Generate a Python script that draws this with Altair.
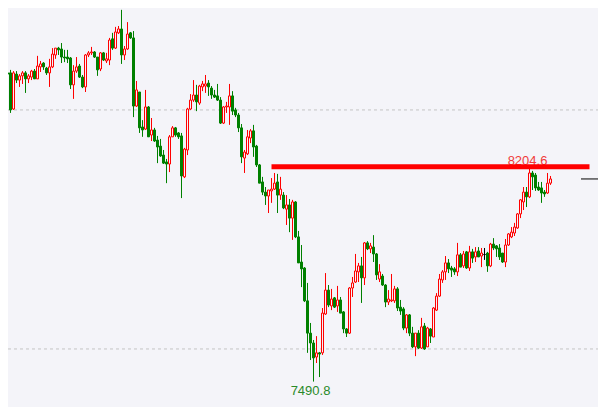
import altair as alt
import pandas as pd

# ---- data ----
opens = [8373, 8530, 8524, 8524, 8403, 8520, 8500, 8514, 8524, 8504, 8510, 8530, 8504, 8544, 8557, 8540,
         8524, 8544, 8584, 8607, 8604, 8577, 8577, 8574, 8484, 8530, 8547, 8510, 8477, 8584, 8591, 8594,
         8577, 8537, 8591, 8564, 8567, 8638, 8607, 8658, 8671, 8584, 8604, 8658, 8641, 8413, 8460, 8343,
         8336, 8410, 8316, 8333, 8299, 8279, 8249, 8226, 8219, 8310, 8340, 8323, 8313, 8176, 8266, 8403,
         8433, 8450, 8423, 8477, 8480, 8490, 8473, 8450, 8447, 8433, 8356, 8410, 8410, 8447, 8400, 8383,
         8340, 8239, 8253, 8306, 8330, 8279, 8216, 8159, 8125, 8112, 8129, 8135, 8159, 8115, 8115, 8068,
         8082, 8038, 8092, 7975, 7891, 7871, 7761, 7653, 7620, 7573, 7587, 7587, 7717, 7797, 7744, 7771,
         7744, 7764, 7724, 7667, 7653, 7804, 7824, 7858, 7878, 7838, 7955, 7935, 7941, 7918, 7834, 7844,
         7814, 7757, 7761, 7761, 7801, 7740, 7734, 7670, 7714, 7653, 7607, 7653, 7603, 7677, 7607, 7667,
         7640, 7730, 7777, 7831, 7858, 7888, 7871, 7868, 7858, 7915, 7878, 7925, 7871, 7925, 7908, 7928,
         7911, 7916, 7921, 7878, 7951, 7945, 7938, 7921, 7891, 7948, 7975, 7988, 8005, 8052, 8092, 8125,
         8109, 8189, 8182, 8142, 8139, 8125, 8122, 8155]
highs = [8540, 8567, 8550, 8534, 8530, 8530, 8520, 8530, 8530, 8520, 8534, 8537, 8581, 8564, 8560, 8544,
         8571, 8607, 8607, 8611, 8624, 8601, 8601, 8577, 8550, 8577, 8554, 8517, 8587, 8597, 8611, 8597,
         8577, 8594, 8594, 8591, 8641, 8658, 8678, 8681, 8735, 8614, 8694, 8661, 8664, 8497, 8460, 8366,
         8467, 8413, 8373, 8340, 8313, 8303, 8266, 8236, 8316, 8346, 8343, 8326, 8323, 8273, 8407, 8453,
         8500, 8484, 8484, 8497, 8517, 8500, 8480, 8467, 8487, 8443, 8413, 8427, 8487, 8463, 8407, 8390,
         8353, 8266, 8333, 8336, 8350, 8283, 8219, 8176, 8142, 8132, 8172, 8189, 8186, 8176, 8125, 8115,
         8102, 8099, 8095, 7995, 7948, 7874, 7821, 7687, 7630, 7643, 7590, 7737, 7854, 7814, 7801, 7774,
         7811, 7774, 7727, 7670, 7807, 7841, 7918, 7888, 7908, 7958, 7961, 7955, 7981, 7921, 7884, 7851,
         7817, 7797, 7851, 7811, 7807, 7764, 7740, 7717, 7717, 7674, 7653, 7663, 7704, 7687, 7674, 7670,
         7740, 7787, 7851, 7864, 7911, 7901, 7878, 7874, 7955, 7921, 7928, 7928, 7945, 7935, 7941, 7941,
         7938, 7938, 7925, 7955, 7971, 7948, 7951, 7921, 7968, 7988, 8008, 8022, 8055, 8102, 8142, 8142,
         8204.6, 8196, 8189, 8159, 8159, 8132, 8189, 8179]
lows = [8279, 8494, 8494, 8390, 8400, 8490, 8477, 8487, 8457, 8490, 8500, 8504, 8504, 8527, 8534, 8517,
        8477, 8540, 8571, 8584, 8557, 8560, 8557, 8470, 8437, 8524, 8507, 8473, 8460, 8577, 8584, 8574,
        8514, 8530, 8564, 8557, 8550, 8601, 8604, 8654, 8554, 8567, 8601, 8638, 8376, 8410, 8323, 8310,
        8333, 8310, 8296, 8293, 8222, 8243, 8219, 8155, 8192, 8310, 8310, 8303, 8105, 8172, 8249, 8400,
        8427, 8396, 8417, 8463, 8457, 8447, 8437, 8440, 8430, 8353, 8353, 8390, 8350, 8383, 8376, 8326,
        8222, 8189, 8249, 8289, 8243, 8209, 8155, 8115, 8082, 8055, 8089, 8132, 8055, 8099, 8068, 8015,
        7991, 7965, 7971, 7888, 7807, 7757, 7587, 7563, 7490.8, 7553, 7506, 7580, 7714, 7740, 7730, 7737,
        7724, 7720, 7653, 7640, 7650, 7774, 7821, 7824, 7754, 7814, 7931, 7921, 7891, 7831, 7824, 7811,
        7740, 7747, 7757, 7754, 7727, 7714, 7663, 7653, 7643, 7603, 7576, 7600, 7600, 7597, 7607, 7620,
        7640, 7727, 7774, 7821, 7831, 7854, 7841, 7848, 7844, 7874, 7871, 7868, 7861, 7888, 7891, 7908,
        7874, 7898, 7858, 7874, 7931, 7908, 7898, 7888, 7874, 7945, 7971, 7978, 8002, 8038, 8065, 8075,
        8105, 8132, 8129, 8129, 8089, 8109, 8119, 8149]
closes = [8540, 8524, 8520, 8400, 8524, 8500, 8514, 8524, 8504, 8514, 8530, 8504, 8547, 8554, 8544, 8524,
          8544, 8587, 8607, 8601, 8577, 8574, 8571, 8484, 8530, 8544, 8510, 8477, 8584, 8591, 8594, 8577,
          8534, 8591, 8567, 8571, 8634, 8607, 8661, 8671, 8584, 8604, 8654, 8641, 8413, 8467, 8340, 8333,
          8410, 8310, 8333, 8296, 8276, 8246, 8222, 8219, 8310, 8340, 8316, 8310, 8179, 8269, 8403, 8433,
          8450, 8427, 8480, 8487, 8487, 8477, 8450, 8443, 8433, 8356, 8410, 8413, 8447, 8396, 8383, 8340,
          8243, 8259, 8310, 8330, 8276, 8216, 8155, 8125, 8112, 8132, 8135, 8155, 8115, 8135, 8072, 8082,
          8038, 8092, 7975, 7888, 7868, 7761, 7653, 7620, 7570, 7587, 7583, 7720, 7797, 7747, 7767, 7740,
          7764, 7720, 7667, 7653, 7804, 7821, 7861, 7878, 7838, 7955, 7935, 7945, 7918, 7848, 7858, 7814,
          7757, 7767, 7764, 7801, 7737, 7727, 7670, 7714, 7653, 7607, 7653, 7603, 7674, 7600, 7670, 7643,
          7737, 7777, 7834, 7858, 7888, 7868, 7864, 7858, 7915, 7874, 7918, 7871, 7925, 7904, 7925, 7908,
          7921, 7916, 7878, 7951, 7938, 7935, 7908, 7891, 7948, 7985, 7991, 8008, 8052, 8099, 8125, 8109,
          8189, 8176, 8139, 8132, 8122, 8119, 8155, 8169]

grid_levels = [8400, 7600]
resistance_level = 8210
resistance_start = 90
resistance_end = 196

# ---- layout / style ----
BG = "#f4f4f9"
UP = "#ff0000"
DOWN = "#008000"
FLAT = "#000000"
W, H = 590, 399

df = pd.DataFrame({"open": opens, "high": highs, "low": lows, "close": closes})
df["i"] = range(len(df))
df["dir"] = ["up" if c > o else ("down" if c < o else "flat") for o, c in zip(opens, closes)]

xs = alt.Scale(domain=[6.5 / 3, (W + 6.5) / 3], nice=False, zero=False)
ys = alt.Scale(domain=[8741.2 - H * 3.347, 8741.2], nice=False, zero=False)
dirs = ["up", "down", "flat"]
stroke_scale = alt.Scale(domain=dirs, range=[UP, DOWN, FLAT])
fill_scale = alt.Scale(domain=dirs, range=[BG, DOWN, FLAT])

base = alt.Chart(df)

grid = alt.Chart(pd.DataFrame({"v": grid_levels})).mark_rule(
    color="#c4c4c4", strokeWidth=1, strokeDash=[3, 3]
).encode(y=alt.Y("v:Q", scale=ys, axis=None), x=alt.value(0), x2=alt.value(W))

wicks = base.mark_rule(strokeWidth=1).encode(
    x=alt.X("i:Q", scale=xs, axis=None),
    y=alt.Y("low:Q", scale=ys, axis=None),
    y2="high:Q",
    color=alt.Color("dir:N", scale=stroke_scale, legend=None),
)

bodies = base.transform_calculate(
    xl="datum.i - 1/3", xr="datum.i + 1/3"
).mark_rect(strokeWidth=1).encode(
    x=alt.X("xl:Q", scale=xs, axis=None),
    x2="xr:Q",
    y=alt.Y("open:Q", scale=ys, axis=None),
    y2="close:Q",
    stroke=alt.Stroke("dir:N", scale=stroke_scale, legend=None),
    fill=alt.Fill("dir:N", scale=fill_scale, legend=None),
)

lo_idx = int(df["low"].idxmin())
hi_idx = int(df["high"].iloc[lo_idx:].idxmax())
hi_df = pd.DataFrame({"i": [hi_idx], "v": [highs[hi_idx]], "t": [f"{highs[hi_idx]:.1f}"]})
lo_df = pd.DataFrame({"i": [lo_idx], "v": [lows[lo_idx]], "t": [f"{lows[lo_idx]:.1f}"]})

hi_label = alt.Chart(hi_df).mark_text(
    font="Liberation Sans", fontSize=13, color="#f03a3a", align="center", baseline="alphabetic", dx=-2, dy=-3
).encode(x=alt.X("i:Q", scale=xs, axis=None), y=alt.Y("v:Q", scale=ys, axis=None), text="t:N")

lo_label = alt.Chart(lo_df).mark_text(
    font="Liberation Sans", fontSize=13, color="#2a8a2a", align="center", baseline="alphabetic", dx=-3, dy=13
).encode(x=alt.X("i:Q", scale=xs, axis=None), y=alt.Y("v:Q", scale=ys, axis=None), text="t:N")

res_line = alt.Chart(pd.DataFrame({"a": [resistance_start], "b": [resistance_end], "v": [resistance_level]})).mark_rule(
    color="#ff0000", strokeWidth=5, strokeCap="butt"
).encode(x=alt.X("a:Q", scale=xs, axis=None), x2="b:Q", y=alt.Y("v:Q", scale=ys, axis=None))

last_mark = alt.Chart(pd.DataFrame({"v": [closes[-1]]})).mark_rule(color="#000000", strokeWidth=1).encode(
    y=alt.Y("v:Q", scale=ys, axis=None), x=alt.value(573), x2=alt.value(W)
)

chart = alt.layer(
    grid, wicks, bodies, hi_label, res_line, lo_label, last_mark
).properties(
    width=W, height=H, padding=0, background=BG,
    autosize=alt.AutoSizeParams(type="none"),
).configure_view(stroke=None)

chart.save("out.html", embed_options={"renderer": "svg", "actions": False})
